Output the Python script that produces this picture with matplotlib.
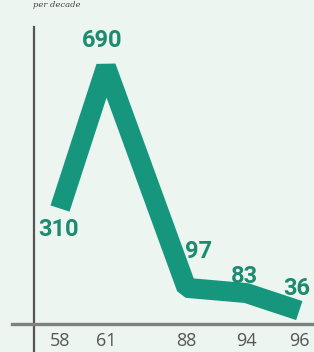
import matplotlib.pyplot as plt

# values per decade, labelled by year
years = ['58', '61', '88', '94', '96']
values = [310, 690, 97, 83, 36]

# layout: uneven horizontal slots for the years
slots = [0, 1, 2.75, 4.05, 5.2]
label_offsets = [(-1, -21), (-4, 26), (12, 36), (-2, 17), (-3, 22)]

bg = '#edf5f0'
teal = '#16977d'
label_teal = '#1c8b6f'

fig = plt.figure(figsize=(3.14, 3.52), dpi=100, facecolor=bg)
ax = fig.add_axes([0, 0, 1, 1], facecolor=bg)

ax.plot(slots, values, color=teal, lw=14.4, solid_joinstyle='bevel',
        solid_capstyle='butt')

for x, v, off in zip(slots, values, label_offsets):
    ax.annotate(str(v), (x, v), xytext=off, textcoords='offset pixels',
                ha='center', va='center', fontsize=17, fontweight='bold',
                family='Roboto', color=label_teal)

# pixel-like mapping: 46 px per slot, 0.3725 px per unit
ax.set_xlim(-1.304, 5.52)
ax.set_ylim(-75.2, 869.8)

for s in ['top', 'right']:
    ax.spines[s].set_visible(False)
ax.spines['left'].set_position(('data', -0.565))
ax.spines['left'].set_bounds(-75, 797)
ax.spines['left'].set_color('#555555')
ax.spines['left'].set_linewidth(1.6)
ax.spines['bottom'].set_position(('data', 0))
ax.spines['bottom'].set_bounds(-1.043, 5.52)
ax.spines['bottom'].set_color('#808080')
ax.spines['bottom'].set_linewidth(2.4)

ax.set_yticks([])
ax.set_xticks(slots, years)
ax.tick_params(axis='x', length=0, pad=6, labelsize=13, labelcolor='#555555')
for t in ax.get_xticklabels():
    t.set_family('Open Sans')

fig.text(0.105, 0.997, 'per decade', fontsize=6, style='italic',
         family='DejaVu Serif', color='#444444', va='top')

fig.savefig('out.png', dpi=100, facecolor=bg)
